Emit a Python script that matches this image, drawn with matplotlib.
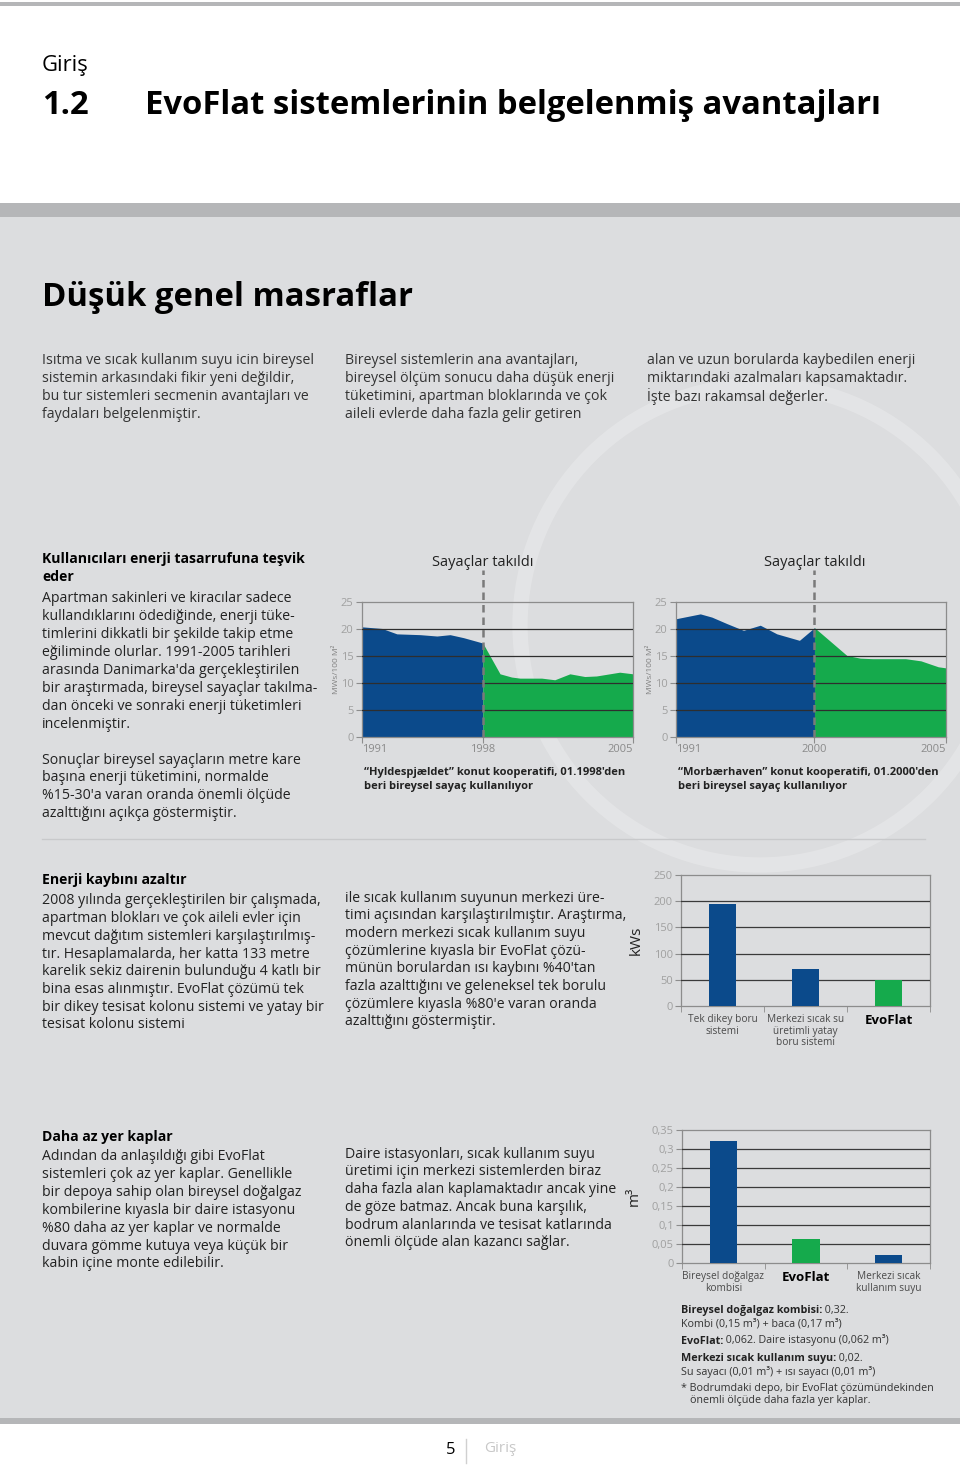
import matplotlib
matplotlib.use('Agg')
import matplotlib.pyplot as plt
from matplotlib.patches import Rectangle, Circle
import numpy as np

FONT = 'Open Sans'
BLUE = '#0b4a8b'
GREEN = '#15aa4c'
PANEL = '#dcdddf'
BAND = '#b5b6b8'
TXT = '#222222'
W, H = 960, 1466

# --- chart data (x in axis units, 0 = 1991, 14 = 2005) ---
hyl_pos = [0, 1.03, 1.80, 3.01, 3.87, 4.55, 5.24, 6.24,
           7.13, 7.73, 8.16, 9.28, 9.96, 10.74, 11.51, 12.11, 13.31, 14]
hyl_val = [20.4, 20.1, 19.1, 18.95, 18.7, 18.95, 18.4, 17.4,
           11.7, 11.1, 10.9, 10.9, 10.6, 11.7, 11.2, 11.3, 12.0, 11.7]
hyl_switch = 6.24
hyl_ticks = [0, 6.24, 14]
hyl_ticklabels = ['1991', '1998', '2005']

mor_pos = [0, 1.26, 1.86, 2.64, 3.50, 4.37, 5.23, 6.40, 7.18,
           8.86, 9.55, 10.2, 11.9, 12.7, 13.6, 14]
mor_val = [21.9, 22.8, 22.2, 21.0, 19.75, 20.7, 19.1, 17.9, 20.25,
           15.1, 14.6, 14.5, 14.5, 14.1, 13.0, 12.8]
mor_switch = 7.18
mor_ticks = [0, 7.18, 14]
mor_ticklabels = ['1991', '2000', '2005']

loss_cats = ['Tek dikey boru\nsistemi', 'Merkezi sıcak su\nüretimli yatay\nboru sistemi', 'EvoFlat']
loss_kws = [195, 70, 50]
loss_colors = [BLUE, BLUE, GREEN]

space_cats = ['Bireysel doğalgaz\nkombisi', 'EvoFlat', 'Merkezi sıcak\nkullanım suyu']
space_m3 = [0.32, 0.062, 0.02]
space_colors = [BLUE, GREEN, BLUE]
space_ticklabels = ['0', '0,05', '0,1', '0,15', '0,2', '0,25', '0,3', '0,35']

# --- text ---
top_col1 = ['Isıtma ve sıcak kullanım suyu icin bireysel',
            'sistemin arkasındaki fikir yeni değildir,',
            'bu tur sistemleri secmenin avantajları ve',
            'faydaları belgelenmiştir.']
top_col2 = ['Bireysel sistemlerin ana avantajları,',
            'bireysel ölçüm sonucu daha düşük enerji',
            'tüketimini, apartman bloklarında ve çok',
            'aileli evlerde daha fazla gelir getiren']
top_col3 = ['alan ve uzun borularda kaybedilen enerji',
            'miktarındaki azalmaları kapsamaktadır.',
            'İşte bazı rakamsal değerler.']

meter_title = ['Kullanıcıları enerji tasarrufuna teşvik', 'eder']
meter_body1 = ['Apartman sakinleri ve kiracılar sadece',
               'kullandıklarını ödediğinde, enerji tüke-',
               'timlerini dikkatli bir şekilde takip etme',
               'eğiliminde olurlar. 1991-2005 tarihleri',
               "arasında Danimarka'da gerçekleştirilen",
               'bir araştırmada, bireysel sayaçlar takılma-',
               'dan önceki ve sonraki enerji tüketimleri',
               'incelenmiştir.']
meter_body2 = ['Sonuçlar bireysel sayaçların metre kare',
               'başına enerji tüketimini, normalde',
               "%15-30'a varan oranda önemli ölçüde",
               'azalttığını açıkça göstermiştir.']

loss_title = 'Enerji kaybını azaltır'
loss_left = ['2008 yılında gerçekleştirilen bir çalışmada,',
             'apartman blokları ve çok aileli evler için',
             'mevcut dağıtım sistemleri karşılaştırılmış-',
             'tır. Hesaplamalarda, her katta 133 metre',
             'karelik sekiz dairenin bulunduğu 4 katlı bir',
             'bina esas alınmıştır. EvoFlat çözümü tek',
             'bir dikey tesisat kolonu sistemi ve yatay bir',
             'tesisat kolonu sistemi']
loss_right = ['ile sıcak kullanım suyunun merkezi üre-',
              'timi açısından karşılaştırılmıştır. Araştırma,',
              'modern merkezi sıcak kullanım suyu',
              'çözümlerine kıyasla bir EvoFlat çözü-',
              "münün borulardan ısı kaybını %40'tan",
              'fazla azalttığını ve geleneksel tek borulu',
              "çözümlere kıyasla %80'e varan oranda",
              'azalttığını göstermiştir.']

space_title = 'Daha az yer kaplar'
space_left = ['Adından da anlaşıldığı gibi EvoFlat',
              'sistemleri çok az yer kaplar. Genellikle',
              'bir depoya sahip olan bireysel doğalgaz',
              'kombilerine kıyasla bir daire istasyonu',
              '%80 daha az yer kaplar ve normalde',
              'duvara gömme kutuya veya küçük bir',
              'kabin içine monte edilebilir.']
space_right = ['Daire istasyonları, sıcak kullanım suyu',
               'üretimi için merkezi sistemlerden biraz',
               'daha fazla alan kaplamaktadır ancak yine',
               'de göze batmaz. Ancak buna karşılık,',
               'bodrum alanlarında ve tesisat katlarında',
               'önemli ölçüde alan kazancı sağlar.']

fig = plt.figure(figsize=(W / 100, H / 100), dpi=100)
fig.patch.set_facecolor('white')
pg = fig.add_axes([0, 0, 1, 1])
pg.set_xlim(0, W)
pg.set_ylim(H, 0)
pg.axis('off')
R = fig.canvas.get_renderer()


def fit(txt, width, weight='normal'):
    t = pg.text(0, 0, txt, fontsize=10, family=FONT, weight=weight)
    w = t.get_window_extent(R).width
    t.remove()
    return 10 * width / w


def lines(x, y0, step, rows, size, weight='normal', color=TXT):
    for i, s in enumerate(rows):
        pg.text(x, y0 + i * step, s, fontsize=size, family=FONT, weight=weight,
                color=color, va='center', ha='left')


def mixed(x, y, bold, rest, size):
    t = pg.text(x, y, bold, fontsize=size, family=FONT, weight='bold',
                color=TXT, va='center')
    pg.annotate(rest, xy=(1, 0), xycoords=t, va='bottom', ha='left',
                fontsize=size, family=FONT, color='#333333')


# page background
pg.add_patch(Rectangle((0, 2), W, 4, color=BAND, lw=0))
pg.add_patch(Rectangle((0, 203), W, 14, color=BAND, lw=0))
panel = Rectangle((0, 217), W, 1201, color=PANEL, lw=0)
pg.add_patch(panel)
pg.add_patch(Rectangle((0, 1418), W, 6, color=BAND, lw=0))
ring = Circle((760, 625), 240, fill=False, ec='white', lw=11, alpha=0.22)
pg.add_patch(ring)
ring.set_clip_path(panel)
pg.plot([42, 925], [839, 839], color='#c8c9cb', lw=1)

# headings
pg.text(42, 65, 'Giriş', fontsize=fit('Giriş', 47), family=FONT, va='center')
hsize = fit('EvoFlat sistemlerinin belgelenmiş avantajları', 740, 'bold')
pg.text(42, 105, '1.2', fontsize=hsize, family=FONT, weight='bold', va='center')
pg.text(145, 105, 'EvoFlat sistemlerinin belgelenmiş avantajları', fontsize=hsize,
        family=FONT, weight='bold', va='center')
pg.text(42, 297, 'Düşük genel masraflar', fontsize=fit('Düşük genel masraflar', 372, 'bold'),
        family=FONT, weight='bold', va='center')

body = fit(meter_body1[5], 273)
bold = fit(meter_title[0], 264, 'bold')
small_b = fit('“Hyldespjældet” konut kooperatifi, 01.1998\'den', 262, 'bold')
small = fit('* Bodrumdaki depo, bir EvoFlat çözümündekinden', 252)

lines(42, 361, 17.8, top_col1, body, color='#333333')
lines(345, 361, 17.8, top_col2, body, color='#333333')
lines(647, 361, 17.8, top_col3, body, color='#333333')

lines(42, 559, 17.6, meter_title, bold, weight='bold', color='black')
lines(42, 599, 17.9, meter_body1, body)
lines(42, 760, 17.9, meter_body2, body)

lines(42, 880, 17.7, [loss_title], bold, weight='bold', color='black')
lines(42, 901, 17.7, loss_left, body)
lines(345, 898, 17.7, loss_right, body)

lines(42, 1137, 17.7, [space_title], bold, weight='bold', color='black')
lines(42, 1157, 17.8, space_left, body)
lines(345, 1154, 17.8, space_right, body)

# footer
pg.text(446, 1450, '5', fontsize=12, family=FONT, color='black', va='center')
pg.plot([466, 466], [1439, 1463], color='#d0d0d0', lw=1)
pg.text(484, 1448, 'Giriş', fontsize=11, family=FONT, color='#c8c8c8', va='center')


def px_axes(x0, y0, x1, y1):
    return fig.add_axes([x0 / W, 1 - y1 / H, (x1 - x0) / W, (y1 - y0) / H])


def frame(ax):
    ax.set_facecolor('none')
    for s in ax.spines.values():
        s.set_color('#8c8c8c')
        s.set_linewidth(0.9)
    ax.tick_params(axis='y', length=4, color='#8c8c8c', labelcolor='#a0a0a0',
                   labelsize=8, pad=2)
    for lab in ax.get_yticklabels():
        lab.set_family(FONT)


def area_chart(box, pos, val, switch, ticks, ticklabels, caption):
    ax = px_axes(*box)
    pos = np.array(pos)
    val = np.array(val)
    ax.fill_between(pos, 0, val, where=pos <= switch, color=BLUE, lw=0, zorder=2)
    ax.fill_between(pos, 0, val, where=pos >= switch, color=GREEN, lw=0, zorder=2)
    ax.set_xlim(pos[0], pos[-1])
    ax.set_ylim(0, 25)
    ax.set_yticks(range(0, 26, 5))
    for v in range(5, 25, 5):
        ax.axhline(v, color='#2e2e2e', lw=0.9, zorder=3)
    ax.plot([switch, switch], [0, 31], color='#7a7a7a', lw=1.8, ls=(0, (3, 2)),
            clip_on=False, zorder=4)
    ax.set_xticks(ticks)
    ax.set_xticklabels(ticklabels, family=FONT)
    for lab, ha in zip(ax.get_xticklabels(), ['left', 'center', 'right']):
        lab.set_ha(ha)
    ax.tick_params(axis='x', length=4, color='#8c8c8c', labelcolor='#8a8a8a',
                   labelsize=8, pad=1)
    frame(ax)
    ax.set_ylabel('MWs/100 M²', fontsize=6, color='#808080', family=FONT, labelpad=1)
    ax.text(switch, 32.4, 'Sayaçlar takıldı', transform=ax.transData, ha='center',
            va='center', fontsize=fit('Sayaçlar takıldı', 101), family=FONT, color=TXT)
    x0 = box[0] + 2
    pg.text(x0, 772, caption[0], fontsize=small_b, family=FONT, weight='bold',
            color=TXT, va='center')
    pg.text(x0, 787, caption[1], fontsize=small_b, family=FONT, weight='bold',
            color=TXT, va='center')
    return ax


area_chart((362, 602, 633, 737), hyl_pos, hyl_val, hyl_switch, hyl_ticks, hyl_ticklabels,
           ['“Hyldespjældet” konut kooperatifi, 01.1998\'den', 'beri bireysel sayaç kullanılıyor'])
area_chart((676, 602, 946, 737), mor_pos, mor_val, mor_switch, mor_ticks, mor_ticklabels,
           ['“Morbærhaven” konut kooperatifi, 01.2000\'den', 'beri bireysel sayaç kullanılıyor'])


def bar_chart(box, cats, vals, colors, top, step, yticklabels, ylabel, evo_idx):
    ax = px_axes(*box)
    ax.bar(range(len(vals)), vals, width=0.33, color=colors, zorder=4)
    ax.set_xlim(-0.5, len(vals) - 0.5)
    ax.set_ylim(0, top)
    yt = np.arange(0, top + step / 2, step)
    ax.set_yticks(yt)
    ax.set_yticklabels(yticklabels)
    for v in yt[1:-1]:
        ax.axhline(v, color='#3a3a3a', lw=0.9, zorder=3)
    ax.set_xticks(range(len(vals)))
    ax.set_xticklabels(cats, family=FONT, fontsize=7.3, color='#4a4a4a', linespacing=1.05)
    ax.set_xticks(np.arange(-0.5, len(vals)), minor=True)
    ax.tick_params(axis='x', which='major', length=0, pad=6)
    ax.tick_params(axis='x', which='minor', length=4, color='#8c8c8c')
    evo = ax.get_xticklabels()[evo_idx]
    evo.set_fontweight('bold')
    evo.set_fontsize(9.5)
    evo.set_color('black')
    frame(ax)
    ax.set_ylabel(ylabel, fontsize=11, color=TXT, family=FONT, labelpad=7)
    return ax


bar_chart((681, 875, 930, 1006), loss_cats, loss_kws, loss_colors, 250, 50,
          ['0', '50', '100', '150', '200', '250'], 'kWs', 2)
bar_chart((682, 1130, 930, 1263), space_cats, space_m3, space_colors, 0.35, 0.05,
          space_ticklabels, 'm³', 1)

# notes under the space chart
mixed(681, 1310, 'Bireysel doğalgaz kombisi:', ' 0,32.', small)
lines(681, 1324, 14, ['Kombi (0,15 m³) + baca (0,17 m³)'], small, color='#333333')
mixed(681, 1341, 'EvoFlat:', ' 0,062. Daire istasyonu (0,062 m³)', small)
mixed(681, 1358, 'Merkezi sıcak kullanım suyu:', ' 0,02.', small)
lines(681, 1372, 14, ['Su sayacı (0,01 m³) + ısı sayacı (0,01 m³)'], small, color='#333333')
lines(681, 1388, 13.5, ['* Bodrumdaki depo, bir EvoFlat çözümündekinden'], small, color='#333333')
lines(690, 1401, 13.5, ['önemli ölçüde daha fazla yer kaplar.'], small, color='#333333')

fig.savefig('out.png', dpi=100, facecolor='white')
